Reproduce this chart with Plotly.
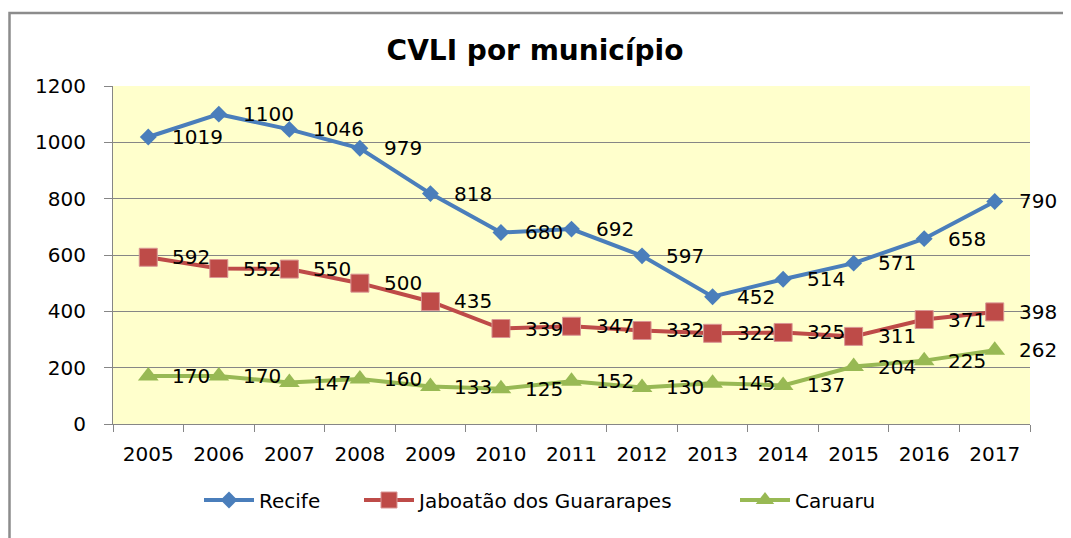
import plotly.graph_objects as go

years = [str(y) for y in range(2005, 2018)]
recife = [1019, 1100, 1046, 979, 818, 680, 692, 597, 452, 514, 571, 658, 790]
jaboatao = [592, 552, 550, 500, 435, 339, 347, 332, 322, 325, 311, 371, 398]
caruaru = [170, 170, 147, 160, 133, 125, 152, 130, 145, 137, 204, 225, 262]
y_ticks = [0, 200, 400, 600, 800, 1000, 1200]

FONT = "DejaVu Sans"
FS = 20
OFF = 8  # page body margin offset

# plot area in page pixels (from reference), converted to figure pixels
L, R, T, B = 113 - OFF, 1030 - OFF, 86 - OFF, 424 - OFF
W, H = R - L, B - T
def px_x(p):
    return (p - OFF - L) / W
def px_y(p):
    return (B - (p - OFF)) / H

series = [
    ("Recife", recife, "#4A7EBB", "diamond", 13, None, "legend", 207),
    ("Jaboatão dos Guararapes", jaboatao, "#BE4B48", "square", 18, "#D99694", "legend2", 367),
    ("Caruaru", caruaru, "#98B954", "triangle-up", 18, None, "legend3", 743),
]

fig = go.Figure()
annotations = []
legends = {}
for name, vals, color, sym, size, lc, lg, lgx in series:
    marker = dict(symbol=sym, size=size, color=color)
    marker["line"] = dict(color=lc, width=1) if lc else dict(width=0)
    fig.add_trace(go.Scatter(
        x=years, y=vals, name=name, mode="lines+markers",
        line=dict(color=color, width=4), marker=marker, legend=lg,
    ))
    legends[lg] = dict(orientation="h", x=px_x(lgx - 8), xanchor="left",
                       y=px_y(500), yanchor="middle", itemwidth=50,
                       font=dict(family=FONT, size=FS, color="black"),
                       bgcolor="rgba(0,0,0,0)")
    # category axis: annotations use the category serial index
    for i, v in enumerate(vals):
        annotations.append(dict(
            x=i, y=v, xref="x", yref="y", text=str(v), showarrow=False,
            xanchor="left", yanchor="middle", xshift=22,
            font=dict(family=FONT, size=FS, color="black"),
        ))

# outer chart border
fig.add_shape(type="rect", xref="paper", yref="paper",
              x0=px_x(9.5), x1=px_x(1090), y0=px_y(570), y1=px_y(13),
              line=dict(color="#8C8C8C", width=2.5), fillcolor="rgba(0,0,0,0)",
              layer="below")

fig.update_layout(
    width=1071, height=538,
    margin=dict(l=L, r=1071 - R, t=T, b=538 - B),
    paper_bgcolor="white", plot_bgcolor="#FFFFCC",
    title=dict(text="<b>CVLI por município</b>", x=(535 - OFF) / 1071, xref="container",
               xanchor="center", y=1 - (50 - OFF) / 538, yref="container", yanchor="middle",
               font=dict(family=FONT, size=28, color="black")),
    font=dict(family=FONT, size=FS, color="black"),
    showlegend=True,
    annotations=annotations,
    **legends,
)
fig.update_xaxes(type="category", categoryorder="array", categoryarray=years,
                 range=[-0.5, len(years) - 0.5],
                 tickson="boundaries", ticks="outside", ticklen=7,
                 tickcolor="#868686", showline=True, linecolor="#868686", linewidth=1,
                 showgrid=False, ticklabelstandoff=12, tickangle=0,
                 tickfont=dict(family=FONT, size=FS, color="black"))
fig.update_yaxes(range=[0, 1200], tickvals=y_ticks, ticks="outside", ticklen=8,
                 tickcolor="#868686", showline=True, linecolor="#868686", linewidth=1,
                 showgrid=True, gridcolor="#868686", gridwidth=1, zeroline=False,
                 ticklabelstandoff=14,
                 tickfont=dict(family=FONT, size=FS, color="black"))

fig.write_html("out.html")
